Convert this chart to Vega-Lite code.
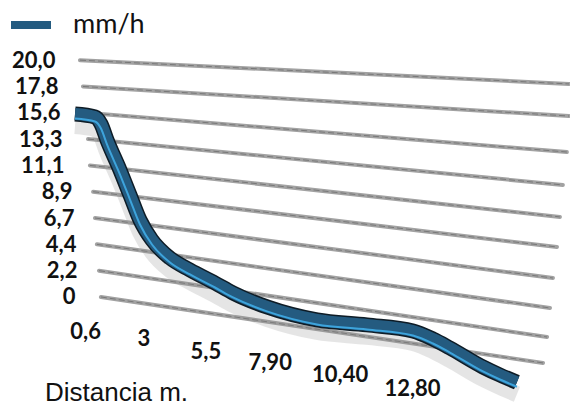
{
  "$schema": "https://vega.github.io/schema/vega-lite/v6.json",
  "width": 500,
  "height": 360,
  "autosize": "none",
  "padding": {"left": 69, "top": 40, "right": 1, "bottom": 10},
  "background": "white",
  "config": {"view": {"stroke": null}},
  "datasets": {
    "curve": [
      {"d": 0.224, "v": 15.45},
      {"d": 0.97, "v": 15.2},
      {"d": 1.194, "v": 14.61},
      {"d": 1.418, "v": 13.26},
      {"d": 1.903, "v": 10.72},
      {"d": 2.276, "v": 8.61},
      {"d": 2.649, "v": 6.5},
      {"d": 3.097, "v": 4.81},
      {"d": 3.769, "v": 3.29},
      {"d": 4.515, "v": 2.28},
      {"d": 5.448, "v": 1.18},
      {"d": 6.119, "v": 0.34},
      {"d": 7.388, "v": -0.84},
      {"d": 9.254, "v": -1.94},
      {"d": 11.119, "v": -2.36},
      {"d": 12.836, "v": -2.87},
      {"d": 13.582, "v": -3.55},
      {"d": 14.216, "v": -4.31},
      {"d": 15.448, "v": -5.91},
      {"d": 16.082, "v": -6.59},
      {"d": 16.716, "v": -7.2}
    ],
    "grid": [
      {"d": 0.41, "v": 20, "d2": 18.66, "v2": 17.99},
      {"d": 0.52, "v": 17.7778, "d2": 18.66, "v2": 15.28},
      {"d": 0.63, "v": 15.5556, "d2": 18.58, "v2": 12.24},
      {"d": 0.71, "v": 13.3333, "d2": 18.43, "v2": 9.46},
      {"d": 0.78, "v": 11.1111, "d2": 18.32, "v2": 6.76},
      {"d": 0.9, "v": 8.8889, "d2": 18.21, "v2": 4.22},
      {"d": 0.97, "v": 6.6667, "d2": 18.06, "v2": 1.6},
      {"d": 1.04, "v": 4.4444, "d2": 17.95, "v2": -0.93},
      {"d": 1.12, "v": 2.2222, "d2": 17.84, "v2": -3.38},
      {"d": 1.19, "v": 0, "d2": 17.69, "v2": -5.57}
    ]
  },
  "encoding": {
    "x": {
      "field": "d",
      "type": "quantitative",
      "scale": {"domain": [0, 18.66], "nice": false, "zero": false},
      "axis": {
        "values": [0.6, 3, 5.5, 7.9, 10.4, 12.8],
        "labelExpr": "datum.value < 1 ? '0,6' : datum.value < 4 ? '3' : datum.value < 6 ? '5,5' : datum.value < 9 ? '7,90' : datum.value < 11 ? '10,40' : '12,80'",
        "domain": false,
        "ticks": false,
        "grid": false,
        "labelPadding": {
          "condition": [
            {"test": "datum.value < 1", "value": -69},
            {"test": "datum.value < 4", "value": -62},
            {"test": "datum.value < 6", "value": -49},
            {"test": "datum.value < 9", "value": -38},
            {"test": "datum.value < 11", "value": -26}
          ],
          "value": -12
        },
        "labelOffset": {
          "condition": [
            {"test": "datum.value < 1", "value": 0},
            {"test": "datum.value < 4", "value": -6},
            {"test": "datum.value < 9", "value": -11},
            {"test": "datum.value < 11", "value": -8}
          ],
          "value": 0
        },
        "labelBaseline": "middle",
        "labelAlign": "center",
        "labelFont": "Lato",
        "labelFontSize": 22,
        "labelFontWeight": "bold",
        "labelColor": "#111111",
        "labelOverlap": false,
        "labelFlush": false,
        "labelBound": false,
        "title": "Distancia m.",
        "titleFont": "Liberation Sans",
        "titleFontSize": 26,
        "titleFontWeight": "normal",
        "titleColor": "#111111",
        "titleX": 47,
        "titleY": -8,
        "titleAlign": "center",
        "titleBaseline": "middle"
      }
    },
    "y": {
      "field": "v",
      "type": "quantitative",
      "scale": {"domain": [-8.7, 21.7], "nice": false, "zero": false},
      "axis": {
        "values": [0, 2.2222, 4.4444, 6.6667, 8.8889, 11.1111, 13.3333, 15.5556, 17.7778, 20],
        "labelExpr": "datum.value == 0 ? '0' : replace(format(datum.value, '.1f'), '.', ',')",
        "domain": false,
        "ticks": false,
        "grid": false,
        "labelPadding": {
          "condition": [
            {"test": "datum.value > 19", "value": 14},
            {"test": "datum.value > 17", "value": 11},
            {"test": "datum.value > 15", "value": 9},
            {"test": "datum.value > 13", "value": 7},
            {"test": "datum.value > 11", "value": 5},
            {"test": "datum.value > 8", "value": -3},
            {"test": "datum.value > 6", "value": -5},
            {"test": "datum.value > 4", "value": -7},
            {"test": "datum.value > 2", "value": -8}
          ],
          "value": -6
        },
        "labelAlign": "right",
        "labelBaseline": "middle",
        "labelFont": "Lato",
        "labelFontSize": 22,
        "labelFontWeight": "bold",
        "labelColor": "#111111",
        "labelOverlap": false,
        "labelFlush": false,
        "labelBound": false,
        "title": null
      }
    }
  },
  "layer": [
    {
      "data": {"name": "grid"},
      "mark": {"type": "rule", "color": "#a2a2a2", "strokeWidth": 4, "strokeCap": "round"},
      "encoding": {"x2": {"field": "d2"}, "y2": {"field": "v2"}}
    },
    {
      "data": {"name": "grid"},
      "mark": {"type": "rule", "color": "#555555", "strokeWidth": 1, "strokeDash": [6, 3], "opacity": 0.55},
      "encoding": {"x2": {"field": "d2"}, "y2": {"field": "v2"}}
    },
    {
      "data": {"name": "curve"},
      "mark": {"type": "line", "interpolate": "monotone", "color": "#888888", "strokeWidth": 16, "opacity": 0.22, "yOffset": 12}
    },
    {
      "data": {"name": "curve"},
      "mark": {"type": "line", "interpolate": "monotone", "color": "#0e1c26", "strokeWidth": 15, "strokeCap": "butt"}
    },
    {
      "data": {"name": "curve"},
      "mark": {"type": "line", "interpolate": "monotone", "strokeWidth": 12, "strokeCap": "butt"},
      "encoding": {
        "color": {
          "datum": "mm/h",
          "type": "nominal",
          "scale": {"range": ["#245b80"]},
          "legend": {
            "title": null,
            "orient": "none",
            "legendX": -62,
            "legendY": -39,
            "symbolType": "stroke",
            "symbolSize": 1600,
            "symbolStrokeWidth": 8,
            "labelFont": "Lato",
            "labelFontSize": 27,
            "labelColor": "#111111",
            "labelOffset": 18,
            "padding": 0
          }
        }
      }
    },
    {
      "data": {"name": "curve"},
      "mark": {"type": "line", "interpolate": "monotone", "color": "#3da4dc", "strokeWidth": 2, "yOffset": 4.5, "strokeCap": "butt"}
    }
  ]
}
